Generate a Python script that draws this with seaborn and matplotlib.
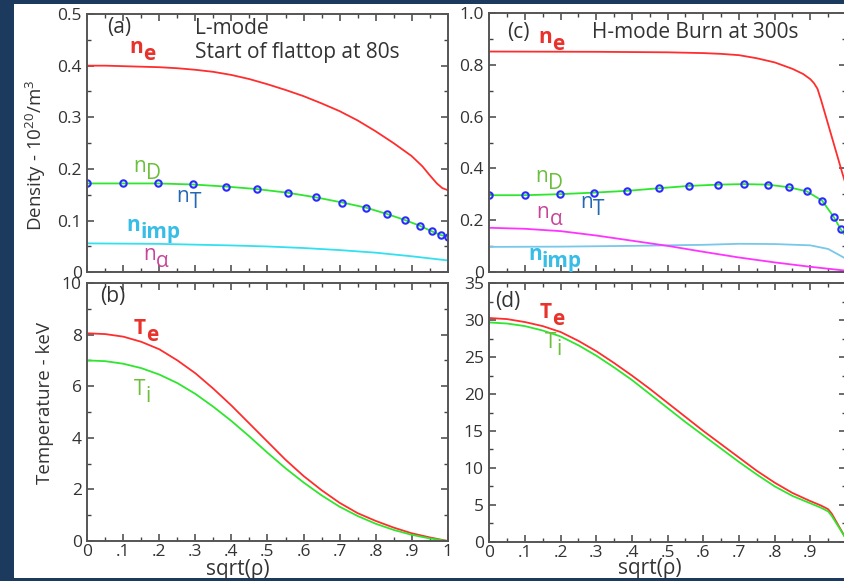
import numpy as np
import pandas as pd
import matplotlib
matplotlib.use("Agg")
import matplotlib.pyplot as plt
import seaborn as sns
from matplotlib.patches import Rectangle
from matplotlib.ticker import FixedLocator, MultipleLocator

sns.set_style("ticks")
plt.rcParams['font.family'] = ['Open Sans', 'DejaVu Sans']
plt.rcParams['mathtext.fontset'] = 'custom'
plt.rcParams['mathtext.rm'] = 'Open Sans'
plt.rcParams['mathtext.it'] = 'Open Sans:italic'
plt.rcParams['mathtext.bf'] = 'Open Sans:bold'

# ---------------- data ----------------
# panel (a) L-mode densities
xa_ne = [0, .05, .1, .15, .2, .25, .3, .35, .4, .45, .5, .55, .6, .65, .7, .75, .8, .85, .9, .93, .95, .97, .985, 1.0]
ne_a = [.400, .400, .399, .398, .397, .395, .392, .388, .382, .374, .364, .353, .341, .327, .312, .294,
        .273, .250, .225, .205, .188, .172, .163, .159]
xa_nt = [0, 0.1, 0.196, 0.292, 0.384, 0.472, 0.556, 0.635, 0.708, 0.774, 0.831, 0.882, 0.923, 0.957, 0.981, 1.0]
nt_a = [0.172, 0.172, 0.172, 0.170, 0.166, 0.161, 0.154, 0.145, 0.135, 0.125, 0.113, 0.101, 0.090, 0.079, 0.072, 0.069]
xa_imp = [0, .2, .4, .5, .6, .7, .8, .9, 1.0]
nimp_a = [0.056, 0.055, 0.052, 0.050, 0.047, 0.043, 0.038, 0.031, 0.023]
xa_al = [0, 1.0]
nal_a = [0.0, 0.0]

# panel (b) L-mode temperatures
xb = [0, .05, .1, .15, .2, .25, .3, .35, .4, .45, .5, .55, .6, .65, .7, .75, .8, .85, .9, .95, 1.0]
te_b = [8.05, 8.02, 7.92, 7.72, 7.43, 7.00, 6.50, 5.90, 5.25, 4.55, 3.85, 3.15, 2.52, 1.97, 1.48, 1.08,
        0.78, 0.52, 0.30, 0.14, 0.0]
ti_b = [7.00, 6.97, 6.87, 6.70, 6.45, 6.12, 5.70, 5.20, 4.65, 4.05, 3.42, 2.82, 2.27, 1.77, 1.33, 0.97,
        0.67, 0.43, 0.24, 0.10, 0.0]

# panel (c) H-mode densities
xc_ne = [0, .3, .5, .6, .65, .7, .75, .8, .85, .88, .9, .91, .92, .93, .95, .97, .99, 1.0]
ne_c = [0.852, 0.851, 0.849, 0.846, 0.843, 0.838, 0.826, 0.810, 0.785, 0.765, 0.745, 0.730, 0.708,
        0.665, 0.570, 0.475, 0.380, 0.335]
xc_nt = [0, 0.1, 0.197, 0.293, 0.387, 0.476, 0.560, 0.642, 0.714, 0.780, 0.839, 0.890, 0.933, 0.966, 0.985]
nt_c = [0.296, 0.296, 0.300, 0.306, 0.313, 0.323, 0.332, 0.337, 0.339, 0.337, 0.327, 0.311, 0.275, 0.211, 0.165]
xc_nd = xc_nt + [1.0]
nd_c = nt_c + [0.135]
xc_al = [0, .1, .2, .3, .4, .5, .6, .7, .8, .9, 1.0]
nal_c = [0.170, 0.166, 0.157, 0.140, 0.120, 0.100, 0.077, 0.055, 0.036, 0.019, 0.004]
xc_imp = [0, .2, .4, .6, .7, .8, .9, .95, 1.0]
nimp_c = [0.096, 0.097, 0.100, 0.104, 0.108, 0.107, 0.102, 0.088, 0.050]

# panel (d) H-mode temperatures
xd = [0, .05, .1, .15, .2, .25, .3, .35, .4, .45, .5, .55, .6, .65, .7, .75, .8, .85, .9, .93, .95, .96, 1.0]
te_d = [30.3, 30.15, 29.75, 29.2, 28.4, 27.2, 25.8, 24.2, 22.5, 20.7, 18.8, 16.9, 15.0, 13.2, 11.4, 9.6,
        8.0, 6.6, 5.5, 4.9, 4.4, 3.8, 0.4]
ti_d = [29.7, 29.55, 29.2, 28.6, 27.8, 26.6, 25.2, 23.6, 21.9, 20.0, 18.1, 16.2, 14.4, 12.6, 10.8, 9.1,
        7.5, 6.2, 5.2, 4.6, 4.1, 3.5, 0.4]

xticks = [0, .1, .2, .3, .4, .5, .6, .7, .8, .9, 1.0]
xticklabels = ["0", ".1", ".2", ".3", ".4", ".5", ".6", ".7", ".8", ".9", "1"]
xticklabels_d = ["0", ".1", ".2", ".3", ".4", ".5", ".6", ".7", ".8", ".9", ""]
yt_a = [0, .1, .2, .3, .4, .5]
ytl_a = ["0", "0.1", "0.2", "0.3", "0.4", "0.5"]
yt_b = [0, 2, 4, 6, 8, 10]
ytl_b = ["0", "2", "4", "6", "8", "10"]
yt_c = [0, .2, .4, .6, .8, 1.0]
ytl_c = ["0", "0.2", "0.4", "0.6", "0.8", "1.0"]
yt_d = [0, 5, 10, 15, 20, 25, 30, 35]
ytl_d = ["0", "5", "10", "15", "20", "25", "30", "35"]

# ---------------- style ----------------
RED = '#ff2d2d'
GREEN = '#2fe62f'
BLUE = '#2b2bff'
CYAN = '#33e0f0'
LBLUE = '#78c8ea'
MAG = '#ff33ff'
T_RED = '#e8322c'
T_GREEN = '#6cbf3c'
T_BLUE = '#2468b4'
T_CYAN = '#38bde6'
T_MAG = '#c8449a'
SPINE = '#555555'
TXT = '#333333'
FS = 15

W, H = 844, 581
fig = plt.figure(figsize=(W / 100, H / 100), dpi=100)
fig.patch.set_facecolor('#1c3a5e')
fig.add_artist(Rectangle((14 / W, 1 - 578 / H), 1 - 14 / W, (578 - 4) / H,
                         transform=fig.transFigure, facecolor='white', edgecolor='none', zorder=0))

def px_axes(left, top, right, bottom):
    return fig.add_axes([left / W, 1 - bottom / H, (right - left) / W, (bottom - top) / H])

ax_a = px_axes(87.3, 14.0, 447.7, 272.3)
ax_b = px_axes(87.3, 283.0, 447.7, 541.0)
ax_c = px_axes(489.3, 13.3, 846.0, 271.7)
ax_d = px_axes(489.3, 283.3, 846.0, 541.7)

def style(ax, yt, ytl, ylim, yminor, xtl):
    ax.set_facecolor('white')
    ax.set_xlim(0, 1)
    ax.set_ylim(*ylim)
    ax.xaxis.set_major_locator(FixedLocator(xticks))
    ax.xaxis.set_minor_locator(MultipleLocator(0.05))
    ax.yaxis.set_major_locator(FixedLocator(yt))
    ax.yaxis.set_minor_locator(MultipleLocator(yminor))
    ax.set_yticklabels(ytl)
    if xtl is not None:
        ax.set_xticklabels(xtl)
    else:
        ax.set_xticklabels([])
    ax.tick_params(which='both', direction='in', top=True, right=True,
                   color='#444444', labelcolor=TXT, labelsize=12.5)
    ax.tick_params(axis='x', which='major', pad=2.5)
    ax.tick_params(axis='y', which='major', pad=4)
    ax.tick_params(which='major', length=5, width=1.1)
    ax.tick_params(which='minor', length=3, width=1.0)
    for s in ax.spines.values():
        s.set_color(SPINE)
        s.set_linewidth(1.4)
    ax.set_xlabel('')
    ax.set_ylabel('')

def line(ax, x, y, color, lw=1.3, **kw):
    sns.lineplot(x=x, y=y, ax=ax, color=color, lw=lw, **kw)

def sublabel(ax, x, y, base, sub, color, fs=FS, bold=False, adv=0.62, dy=-5.0, subfs=None):
    w = 'bold' if bold else 'normal'
    ax.text(x, y, base, color=color, fontsize=fs, fontweight=w, ha='left', va='baseline')
    ax.annotate(sub, xy=(x, y), xytext=(adv * fs, dy), textcoords='offset points',
                color=color, fontsize=subfs or fs, fontweight=w, ha='left', va='baseline')

# panel (a)
line(ax_a, xa_ne, ne_a, RED)
line(ax_a, xa_nt, nt_a, GREEN)
sns.lineplot(x=xa_nt, y=nt_a, ax=ax_a, color=BLUE, lw=0, marker='o', ms=4.6,
             mfc='none', mec=BLUE, mew=1.5)
line(ax_a, xa_imp, nimp_a, CYAN)
line(ax_a, xa_al, nal_a, MAG, lw=2.0)
style(ax_a, yt_a, ytl_a, (0, 0.5), 0.05, None)
ax_a.text(0.054, 0.463, '(a)', fontsize=FS, color=TXT, va='baseline')
ax_a.text(0.299, 0.461, 'L-mode', fontsize=FS, color=TXT, va='baseline')
ax_a.text(0.299, 0.414, 'Start of flattop at 80s', fontsize=FS, color=TXT, va='baseline')
sublabel(ax_a, 0.118, 0.424, 'n', 'e', T_RED, bold=True, adv=0.66)
sublabel(ax_a, 0.128, 0.195, 'n', 'D', T_GREEN)
sublabel(ax_a, 0.248, 0.137, 'n', 'T', T_BLUE)
sublabel(ax_a, 0.109, 0.079, 'n', 'imp', T_CYAN, bold=True, adv=0.66)
sublabel(ax_a, 0.155, 0.024, 'n', 'α', T_MAG)
ax_a.set_ylabel('Density - 10$^{20}$/m$^3$', fontsize=13.5, color=TXT)
ax_a.yaxis.set_label_coords(-0.108, 0.454)

# panel (b)
line(ax_b, xb, te_b, RED)
line(ax_b, xb, ti_b, GREEN)
style(ax_b, yt_b, ytl_b, (0, 10), 1, xticklabels)
ax_b.text(0.035, 9.27, '(b)', fontsize=FS, color=TXT, va='baseline')
sublabel(ax_b, 0.128, 8.02, 'T', 'e', T_RED, bold=True, adv=0.6)
sublabel(ax_b, 0.128, 5.66, 'T', 'i', T_GREEN, adv=0.56)
ax_b.set_ylabel('Temperature - keV', fontsize=13.5, color=TXT)
ax_b.yaxis.set_label_coords(-0.092, 0.533)
ax_b.set_xlabel('sqrt(ρ)', fontsize=15, color=TXT)
ax_b.xaxis.set_label_coords(0.418, -0.07)

# panel (c)
line(ax_c, xc_ne, ne_c, RED)
line(ax_c, xc_nd, nd_c, GREEN)
sns.lineplot(x=xc_nt, y=nt_c, ax=ax_c, color=BLUE, lw=0, marker='o', ms=4.6,
             mfc='none', mec=BLUE, mew=1.5)
line(ax_c, xc_imp, nimp_c, LBLUE)
line(ax_c, xc_al, nal_c, MAG)
style(ax_c, yt_c, ytl_c, (0, 1.0), 0.1, None)
ax_c.text(0.05, 0.903, '(c)', fontsize=FS, color=TXT, va='baseline')
ax_c.text(0.287, 0.903, 'H-mode Burn at 300s', fontsize=FS, color=TXT, va='baseline')
sublabel(ax_c, 0.137, 0.884, 'n', 'e', T_RED, bold=True, adv=0.66)
sublabel(ax_c, 0.128, 0.348, 'n', 'D', T_GREEN)
sublabel(ax_c, 0.254, 0.245, 'n', 'T', T_BLUE)
sublabel(ax_c, 0.133, 0.207, 'n', 'α', T_MAG)
sublabel(ax_c, 0.109, 0.045, 'n', 'imp', T_CYAN, bold=True, adv=0.66)

# panel (d)
line(ax_d, xd, te_d, RED)
line(ax_d, xd, ti_d, GREEN)
style(ax_d, yt_d, ytl_d, (0, 35), 2.5, xticklabels_d)
ax_d.text(0.016, 31.83, '(d)', fontsize=FS, color=TXT, va='baseline')
sublabel(ax_d, 0.142, 30.26, 'T', 'e', T_RED, bold=True, adv=0.6)
sublabel(ax_d, 0.156, 26.2, 'T', 'i', T_GREEN, adv=0.56)
ax_d.set_xlabel('sqrt(ρ)', fontsize=15, color=TXT)
ax_d.xaxis.set_label_coords(0.45, -0.062)

fig.savefig('out.png', dpi=100, facecolor=fig.get_facecolor())
